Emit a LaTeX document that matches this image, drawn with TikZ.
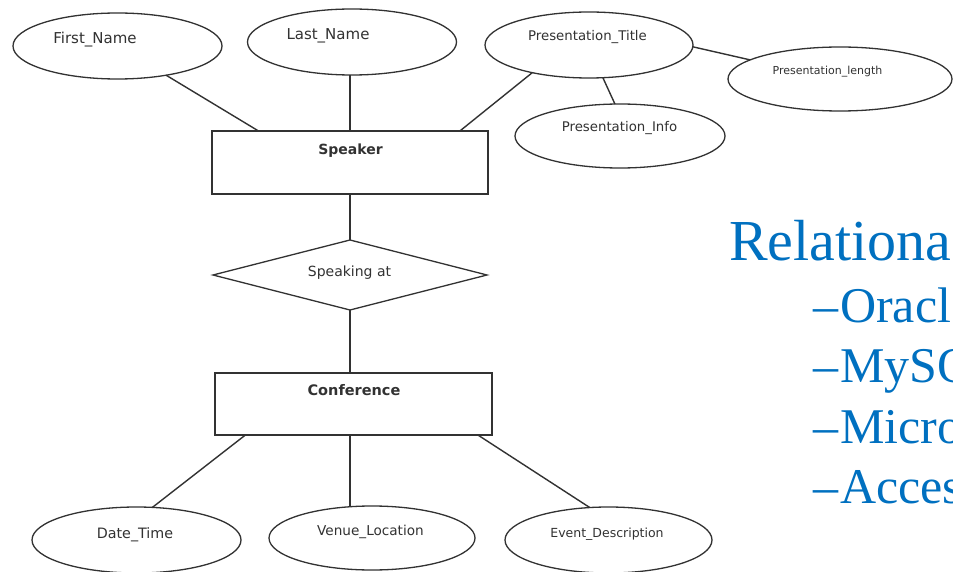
\documentclass[tikz,border=0pt]{standalone}
\usepackage{fontspec}
\setmainfont{DejaVu Sans}
\newfontfamily\serifblue{Liberation Serif}
\usetikzlibrary{shapes.geometric}
\definecolor{relblue}{RGB}{0,112,192}
\definecolor{inkgray}{RGB}{50,50,50}
\begin{document}
\begin{tikzpicture}[x=1pt,y=-1pt,
  ent/.style={draw=inkgray, line width=1.4pt, rectangle, inner sep=0pt, outer sep=0pt},
  attr/.style={draw=inkgray, line width=1.3pt, ellipse, inner sep=0pt, outer sep=0pt},
  relshape/.style={draw=inkgray, line width=1.3pt, diamond, inner sep=0pt, outer sep=0pt, minimum width=274pt, minimum height=70pt},
  lbl/.style={anchor=base, inner sep=0pt, text=inkgray},
  link/.style={draw=inkgray, line width=1.4pt},
  bulletline/.style={anchor=base west, inner sep=0pt, text=relblue, font=\serifblue\fontsize{50}{50}\selectfont}
]
\clip (0,0) rectangle (953,572);
\fill[white] (0,0) rectangle (953,572);

% attributes and entities
\node[attr, minimum width=209pt, minimum height=66pt] (fn) at (117.5,46) {};
\node[attr, minimum width=209pt, minimum height=66pt] (ln) at (352,42) {};
\node[attr, minimum width=208pt, minimum height=66pt] (pt) at (589,45) {};
\node[attr, minimum width=224pt, minimum height=64pt] (pl) at (840,79) {};
\node[attr, minimum width=210pt, minimum height=64pt] (pi) at (620,136) {};
\node[ent, minimum width=276pt, minimum height=63pt] (sp) at (350,162.5) {};
\node[relshape] (sa) at (350,275) {};
\node[ent, minimum width=277pt, minimum height=62pt] (cf) at (353.5,404) {};
\node[attr, minimum width=209pt, minimum height=66pt] (dt) at (136.5,540) {};
\node[attr, minimum width=206pt, minimum height=64pt] (vl) at (372,538) {};
\node[attr, minimum width=207pt, minimum height=66pt] (ed) at (608.5,540) {};

% labels
\node[lbl, font=\fontsize{15}{15}\selectfont] (fnt) at (95,44) {First\_Name};
\node[lbl, font=\fontsize{15}{15}\selectfont] (lnt) at (328,40) {Last\_Name};
\node[lbl, font=\fontsize{13.3}{14}\selectfont] (ptt) at (587.5,41) {Presentation\_Title};
\node[lbl, font=\fontsize{11}{12}\selectfont] (plt) at (827.5,75) {Presentation\_length};
\node[lbl, font=\fontsize{13.3}{14}\selectfont] (pit) at (619.5,132) {Presentation\_Info};
\node[lbl, font=\bfseries\fontsize{14}{14}\selectfont] (spt) at (350.5,155) {Speaker};
\node[lbl, font=\fontsize{14}{14}\selectfont] (sat) at (349.5,276) {Speaking at};
\node[lbl, font=\bfseries\fontsize{14.5}{15}\selectfont] (cft) at (354,395) {Conference};
\node[lbl, font=\fontsize{14.3}{15}\selectfont] (dtt) at (135,538) {Date\_Time};
\node[lbl, font=\fontsize{13.6}{14}\selectfont] (vlt) at (370.5,535) {Venue\_Location};
\node[lbl, font=\fontsize{12.5}{13}\selectfont] (edt) at (607,537) {Event\_Description};

% connectors
\draw[link] (fn.-31) -- (sp.161);
\draw[link] (sp.north) -- (sp.north |- ln.south);
\draw[link] (pt.-154.6) -- (sp.16.7);
\draw[link] (pt.-1) -- (pl.168);
\draw[link] (pt.-67) -- (pi.99);
\draw[link] (sp.south) -- (sa.north);
\draw[link] (sa.south) -- (sa.south |- cf.north);
\draw[link] (cf.-164.9) -- (dt.64);
\draw[link] (sa.south |- cf.south) -- (sa.south |- vl.north);
\draw[link] (cf.-14) -- (ed.120);

% right-hand text
\node[anchor=base west, inner sep=0pt, text=relblue, font=\serifblue\fontsize{58}{58}\selectfont] (rt) at (729,260) {Relationa};
\node[bulletline] (b1) at (813,322) {–\kern2pt Oracl};
\node[bulletline] (b2) at (813,382) {–\kern2pt MySQ};
\node[bulletline] (b3) at (813,443) {–\kern2pt Micro};
\node[bulletline] (b4) at (813,503) {–\kern2pt Acces};
\end{tikzpicture}
\end{document}
